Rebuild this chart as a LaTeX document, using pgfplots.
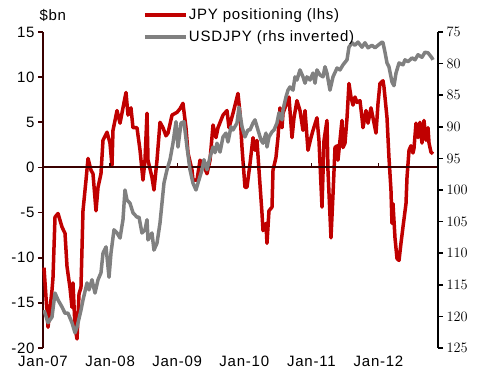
\documentclass[border=0pt]{standalone}
\usepackage{pgfplots}
\pgfplotsset{compat=1.18}
\usepackage{fontspec}
\setmainfont[LetterSpace=5]{Liberation Sans}
\definecolor{jpyred}{HTML}{C00000}
\definecolor{usdgray}{HTML}{808080}
\definecolor{axmaroon}{HTML}{3A0000}

\pgfplotstableread{
t v
0.015 -11.1
0.075 -17.7
0.134 -13.6
0.149 -12.2
0.179 -5.5
0.224 -5.1
0.283 -6.6
0.328 -7.3
0.358 -11.0
0.402 -13.3
0.432 -15.5
0.447 -12.8
0.477 -17.7
0.507 -19.0
0.537 -14.0
0.566 -13.3
0.596 -4.8
0.641 -1.4
0.671 1.0
0.715 -0.3
0.745 -0.7
0.790 -4.8
0.820 -2.2
0.864 -0.7
0.894 3.0
0.954 3.9
0.998 2.7
1.028 0.2
1.043 4.1
1.103 6.3
1.148 4.9
1.192 6.6
1.237 8.3
1.267 5.8
1.311 6.6
1.341 4.4
1.401 4.4
1.446 1.9
1.490 -1.4
1.520 0.8
1.550 6.0
1.565 0.8
1.624 -1.1
1.654 -2.5
1.699 0.8
1.744 5.0
1.788 4.4
1.833 3.5
1.863 3.8
1.923 5.8
1.997 6.1
2.042 6.5
2.086 7.1
2.131 4.4
2.161 1.6
2.221 -0.3
2.235 -1.4
2.295 -1.4
2.340 0.8
2.385 0.4
2.444 -0.7
2.489 0.8
2.534 4.7
2.578 3.3
2.608 4.4
2.683 5.8
2.742 6.3
2.772 4.4
2.832 6.0
2.906 8.2
2.936 6.0
2.966 2.2
3.010 -2.2
3.040 -2.2
3.085 0.4
3.130 3.3
3.159 1.9
3.189 3.0
3.219 -0.3
3.264 -5.1
3.279 -7.0
3.323 -6.2
3.338 -8.4
3.368 -4.8
3.413 -4.4
3.428 -0.3
3.472 1.1
3.502 3.3
3.532 6.6
3.562 4.4
3.577 6.0
3.636 7.2
3.666 7.8
3.711 3.3
3.741 5.5
3.785 7.4
3.830 6.3
3.875 4.1
3.905 6.3
3.949 1.9
3.994 3.3
4.024 4.1
4.083 5.5
4.113 3.0
4.158 -4.4
4.188 3.0
4.232 5.2
4.247 -0.3
4.292 -7.8
4.322 -3.0
4.352 2.2
4.382 2.4
4.396 0.8
4.426 3.0
4.456 5.2
4.471 2.2
4.501 2.7
4.531 5.5
4.560 9.3
4.590 7.8
4.620 6.9
4.650 7.8
4.680 7.2
4.724 7.4
4.754 5.5
4.769 4.4
4.814 6.3
4.844 4.9
4.888 6.6
4.918 5.5
4.963 3.8
4.993 7.1
5.022 9.3
5.067 9.6
5.082 8.9
5.127 5.5
5.156 1.1
5.186 -2.5
5.201 -6.2
5.216 -4.0
5.246 -7.8
5.276 -10.1
5.306 -10.3
5.335 -8.4
5.365 -6.6
5.410 -4.0
5.425 -1.1
5.455 1.9
5.484 2.4
5.514 1.6
5.529 2.1
5.559 4.9
5.589 3.3
5.618 5.0
5.648 2.7
5.678 5.2
5.708 3.0
5.738 4.4
5.753 2.7
5.782 1.7
5.812 1.5
}\jpy

\pgfplotstableread{
t u
0.015 119.0
0.075 121.0
0.134 120.1
0.179 116.3
0.224 117.4
0.283 118.5
0.328 119.5
0.373 119.5
0.432 121.0
0.477 122.6
0.507 121.7
0.566 119.0
0.596 117.4
0.656 114.7
0.686 115.8
0.730 114.2
0.775 116.3
0.820 114.2
0.864 113.1
0.894 110.0
0.939 109.0
0.984 113.8
1.013 110.0
1.058 106.3
1.103 106.8
1.148 107.6
1.192 104.7
1.222 100.0
1.252 101.6
1.297 102.1
1.341 103.6
1.401 104.3
1.431 104.3
1.475 106.8
1.520 106.3
1.550 104.7
1.565 107.9
1.624 106.8
1.654 109.5
1.699 108.4
1.744 105.2
1.773 102.1
1.803 98.9
1.848 96.8
1.893 95.2
1.937 92.6
1.982 89.2
2.012 93.2
2.057 89.4
2.101 89.2
2.146 93.2
2.191 96.8
2.235 98.9
2.280 100.0
2.310 98.9
2.370 96.8
2.399 95.2
2.444 96.8
2.489 94.8
2.534 93.2
2.563 94.1
2.593 92.6
2.638 94.0
2.683 91.6
2.727 91.0
2.757 92.4
2.802 90.0
2.832 90.5
2.891 89.4
2.921 86.9
2.966 90.0
3.010 91.6
3.055 90.5
3.085 90.5
3.130 89.4
3.159 88.9
3.204 90.5
3.249 92.1
3.279 92.6
3.323 91.0
3.338 93.2
3.368 91.6
3.413 90.8
3.443 90.5
3.487 89.4
3.517 87.8
3.562 88.9
3.577 87.3
3.621 85.3
3.651 84.2
3.681 83.7
3.726 84.2
3.756 82.1
3.785 82.6
3.830 81.0
3.875 82.1
3.905 83.1
3.934 82.1
3.979 82.6
4.024 81.5
4.054 83.1
4.083 81.0
4.128 81.8
4.173 82.1
4.203 80.5
4.232 81.5
4.277 84.2
4.322 82.1
4.382 80.7
4.426 81.0
4.471 80.2
4.531 79.4
4.560 77.4
4.605 76.7
4.650 77.1
4.694 76.6
4.754 77.4
4.799 76.7
4.844 77.5
4.903 77.1
4.948 77.5
4.993 77.1
5.052 76.6
5.067 76.7
5.097 78.2
5.127 79.9
5.156 80.5
5.201 82.9
5.231 83.5
5.261 81.5
5.306 79.9
5.365 80.2
5.395 79.4
5.440 79.7
5.499 79.1
5.544 79.4
5.589 78.6
5.648 79.0
5.693 78.2
5.738 78.3
5.797 79.1
5.812 79.4
}\usd

\begin{document}
\begin{tikzpicture}
\useasboundingbox (0,0) rectangle (496bp,374bp);
\pgfplotsset{every axis/.append style={font=\fontsize{15bp}{18bp}\selectfont}}
\begin{axis}[
  at={(43bp,26bp)}, anchor=south west,
  width=395bp, height=316bp, scale only axis,
  xmin=0, xmax=5.887, ymin=-20, ymax=15,
  axis y line*=left, axis x line*=bottom,
  x axis line style={draw=none},
  y axis line style={draw=axmaroon, line width=1.6bp},
  ytick={-20,-15,-10,-5,0,5,10,15},
  yticklabels={-20,-15,-10,-5,0,5,10,15},
  xtick={0,1,2,3,4,5},
  xticklabels={Jan-07,Jan-08,Jan-09,Jan-10,Jan-11,Jan-12},
  x tick style={draw=none},
  y tick style={draw=axmaroon, line width=1.6bp},
  tick align=outside, major tick length=5bp,
  clip=false,
]
\addplot[jpyred, line width=3.5bp, line join=round] table[x=t,y=v]{\jpy};
\draw[axmaroon, line width=2bp] (axis cs:0,0) -- (axis cs:5.887,0);
\pgfplotsinvokeforeach{1,2,3,4,5}{\draw[axmaroon, line width=1.2bp] (axis cs:#1,0) -- ([yshift=4bp]axis cs:#1,0);}
\end{axis}
\begin{axis}[
  at={(43bp,26bp)}, anchor=south west,
  width=395bp, height=316bp, scale only axis,
  xmin=0, xmax=5.887, ymin=75, ymax=125, y dir=reverse,
  axis y line*=right, axis x line=none,
  y axis line style={draw=black, line width=1.6bp},
  ytick={75,80,...,125},
  y tick style={draw=black, line width=1.6bp},
  tick align=outside, major tick length=5bp,
  legend style={draw=none, fill=none, at={(axis description cs:0.245,1.085)}, anchor=north west,
    nodes={inner sep=1bp, text height=11bp, text depth=3bp}, row sep=6bp},
  legend cell align=left,
  legend image code/.code={\draw[#1] (0bp,0bp) -- (41bp,0bp);},
]
\addlegendimage{jpyred, line width=4bp}
\addlegendentry{JPY positioning (lhs)}
\addplot[usdgray, line width=3.5bp, line join=round, forget plot] table[x=t,y=u]{\usd};
\addlegendimage{usdgray, line width=4bp}
\addlegendentry{USDJPY (rhs inverted)}
\end{axis}
\node[anchor=west, font=\fontsize{15bp}{18bp}\selectfont] at (36bp,359bp) {\$bn};
\end{tikzpicture}
\end{document}
